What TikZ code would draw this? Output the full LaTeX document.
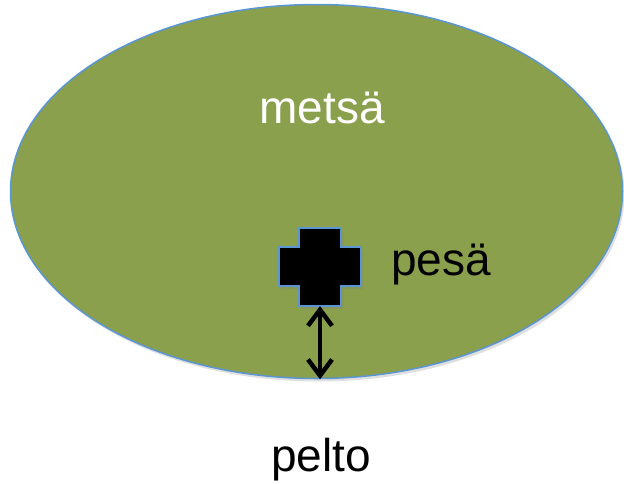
\documentclass[tikz,border=0pt]{standalone}
\usepackage{fontspec}
\setmainfont{Liberation Sans}
\usetikzlibrary{shapes.geometric,shadows,arrows.meta}
\definecolor{forestgreen}{RGB}{138,160,76}
\definecolor{edgeblue}{RGB}{91,150,212}
\tikzset{
  shade/.style={drop shadow={opacity=0.25,shadow xshift=2pt,shadow yshift=-3pt}},
  label/.style={anchor=base,inner sep=0pt,font=\fontsize{46}{50}\selectfont},
  barb/.style={line width=4.5pt,line cap=round,
    {Straight Barb[length=16pt,width=24pt]}-{Straight Barb[length=16pt,width=24pt]}}
}
\begin{document}
\begin{tikzpicture}[x=1pt,y=-1pt]
    \useasboundingbox (0,0) rectangle (624,483);
    % Metsa
    \node[ellipse,draw=edgeblue,line width=1.5pt,fill=forestgreen,shade,
          minimum width=612pt,minimum height=374pt,inner sep=0pt] (forest) at (316.5,191.5) {};
    \node[label,text=white] (forestlbl) at (322,123) {metsä};
    % Pesa (risti)
    \filldraw[draw=edgeblue,line width=1.5pt,fill=black,shade]
        (299,228) -- (341,228) -- (341,247) -- (361,247) -- (361,286) -- (341,286)
        -- (341,306) -- (299,306) -- (299,286) -- (279,286) -- (279,247) -- (299,247) -- cycle;
    \coordinate (nest) at (320,306);
    \node[label] (nestlbl) at (441,275) {pesä};
    % Nuoli
    \draw[barb] (nest) -- (nest |- forest.south);
    \node[label] (field) at (321,471) {pelto};
\end{tikzpicture}
\end{document}
